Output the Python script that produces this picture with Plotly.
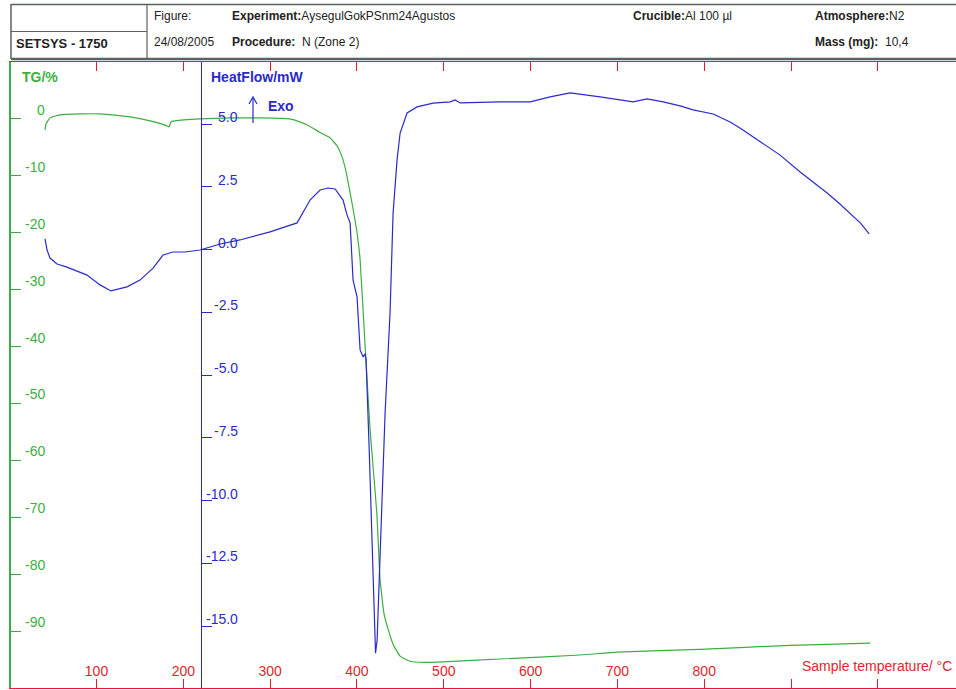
import plotly.graph_objects as go

# ---------------- data ----------------
temp_hf = [40.7, 43.0, 46.4, 54.5, 66.0, 89.1, 104.0, 116.7, 135.1, 150.1, 165.1, 176.6, 188.1,
           202.0, 219.2, 242.3, 265.3, 299.9, 331.0, 337.9, 346.0, 357.5, 366.7, 374.8, 384.0,
           388.6, 392.1, 395.5, 400.1, 403.6, 407.1, 409.4, 410.5, 414.0, 417.4, 419.7, 421.4,
           423.2, 424.3, 427.8, 432.4, 438.1, 441.6, 446.2, 449.7, 457.7, 469.2, 487.7, 507.3,
           513.1, 518.8, 564.9, 599.5, 622.5, 645.5, 680.1, 706.6, 718.1, 734.2, 752.7, 772.2,
           787.2, 810.3, 829.8, 842.0, 856.3, 872.0, 887.4, 910.5, 926.0, 941.6, 955.0, 968.1,
           980.0, 990.0]
heat_flow = [0.42, -0.02, -0.34, -0.58, -0.70, -1.02, -1.41, -1.65, -1.49, -1.22, -0.74, -0.22, -0.10,
             -0.10, -0.02, 0.22, 0.38, 0.70, 1.06, 1.49, 1.97, 2.37, 2.45, 2.41, 1.97,
             1.37, 1.06, -1.22, -1.89, -4.00, -4.28, -4.16, -4.40, -7.87, -11.85, -14.48, -16.08,
             -15.56, -14.48, -11.18, -6.51, -2.53, 1.45, 3.57, 4.64, 5.44, 5.68, 5.83, 5.88,
             5.96, 5.84, 5.88, 5.88, 6.08, 6.24, 6.08, 5.96, 5.88, 6.00, 5.88, 5.72,
             5.56, 5.40, 5.08, 4.82, 4.48, 4.12, 3.76, 3.09, 2.68, 2.25, 1.85, 1.45,
             1.05, 0.62]

temp_tg = [40.7, 41.8, 46.4, 57.9, 81.0, 104.0, 138.6, 161.6, 181.2, 183.5, 185.8, 190.4, 219.2,
           253.8, 288.4, 322.9, 334.4, 346.0, 357.5, 369.0, 377.1, 382.9, 387.5, 392.1, 396.7,
           400.1, 403.6, 409.4, 415.1, 422.8, 426.6, 431.2, 435.8, 441.6, 449.7, 461.2, 478.5,
           499.2, 564.9, 657.0, 699.6, 795.2, 898.9, 991.2]
tg = [-1.93, -0.88, 0.18, 0.70, 0.88, 0.88, 0.35, -0.35, -1.23, -1.40, -0.53, -0.35, 0.0,
      0.18, 0.18, 0.0, -0.53, -1.32, -2.40, -3.33, -4.74, -6.67, -9.30, -12.98, -16.84,
      -20.0, -24.7, -40.0, -54.6, -69.1, -80.9, -87.0, -89.6, -92.3, -94.4, -95.3, -95.5,
      -95.4, -94.9, -94.2, -93.7, -93.2, -92.5, -92.1]

tg_ticks = [0, -10, -20, -30, -40, -50, -60, -70, -80, -90]
tg_tick_text = ["0", "-10", "-20", "-30", "-40", "-50", "-60", "-70", "-80", "-90"]
hf_ticks = [5.0, 2.5, 0.0, -2.5, -5.0, -7.5, -10.0, -12.5, -15.0]
hf_tick_text = ["5.0", "2.5", "0.0", "-2.5", "-5.0", "-7.5", "-10.0", "-12.5", "-15.0"]
x_ticks = [100, 200, 300, 400, 500, 600, 700, 800, 900, 1000]
x_tick_text = ["100", "200", "300", "400", "500", "600", "700", "800", "", ""]

# ---------------- style ----------------
GREEN = "#3cae3f"
BLUE = "#2a2acb"
RED = "#e21f2d"
GREY = "#5e6060"
FONT = "Liberation Sans, Arial, sans-serif"

W, H = 956, 690
L, R, T, B = 11, 0, 62, 2


def px(x):
    return (x - L) / (W - L - R)


def py(y):
    return (H - B - y) / (H - T - B)


fig = go.Figure()
fig.add_trace(go.Scatter(x=temp_tg, y=tg, mode="lines", line=dict(color=GREEN, width=1.2, shape="spline", smoothing=0.4),
                         yaxis="y", showlegend=False, hoverinfo="skip"))
fig.add_trace(go.Scatter(x=temp_hf, y=heat_flow, mode="lines", line=dict(color=BLUE, width=1.2),
                         yaxis="y2", showlegend=False, hoverinfo="skip"))

annotations = []
shapes = []

# tick labels of TG axis
for v, t in zip(tg_ticks, tg_tick_text):
    annotations.append(dict(x=px(47), xref="paper", y=v, yref="y", text=t, showarrow=False,
                            xanchor="right", yanchor="middle", yshift=9,
                            font=dict(family=FONT, size=14, color=GREEN)))
# tick labels of heat flow axis
for v, t in zip(hf_ticks, hf_tick_text):
    annotations.append(dict(x=px(240), xref="paper", y=v, yref="y2", text=t, showarrow=False,
                            xanchor="right", yanchor="middle", yshift=7,
                            font=dict(family=FONT, size=14, color=BLUE)))

# axis titles
annotations += [
    dict(x=px(20), y=py(77), xref="paper", yref="paper", text="<b>TG/%</b>", showarrow=False,
         xanchor="left", yanchor="middle", font=dict(family=FONT, size=14, color=GREEN)),
    dict(x=px(209), y=py(77), xref="paper", yref="paper", text="<b>HeatFlow/mW</b>", showarrow=False,
         xanchor="left", yanchor="middle", font=dict(family=FONT, size=14, color=BLUE)),
    dict(x=px(266), y=py(106), xref="paper", yref="paper", text="<b>Exo</b>", showarrow=False,
         xanchor="left", yanchor="middle", font=dict(family=FONT, size=14, color=BLUE)),
    dict(x=px(954), y=py(666), xref="paper", yref="paper", text="Sample temperature/ °C",
         showarrow=False, xanchor="right", yanchor="middle",
         font=dict(family=FONT, size=14, color=RED)),
]

# header texts
hdr = [
    (152, 16, "Figure:", 12, "left"),
    (230, 16, "<b>Experiment:</b>AysegulGokPSnm24Agustos", 12, "left"),
    (631, 16, "<b>Crucible:</b>Al 100 µl", 12, "left"),
    (813, 16, "<b>Atmosphere:</b>N2", 12, "left"),
    (152, 42, "24/08/2005", 12, "left"),
    (230, 42, "<b>Procedure:</b>  N (Zone 2)", 12, "left"),
    (813, 42, "<b>Mass (mg):</b>  10,4", 12, "left"),
    (14, 44, "<b>SETSYS - 1750</b>", 13, "left"),
]
for x, y, t, s, a in hdr:
    annotations.append(dict(x=px(x), y=py(y), xref="paper", yref="paper", text=t, showarrow=False,
                            xanchor=a, yanchor="middle",
                            font=dict(family=FONT, size=s, color="#222222")))

# header frame lines
def seg(x0, y0, x1, y1, color, width):
    shapes.append(dict(type="line", xref="paper", yref="paper", x0=px(x0), y0=py(y0),
                       x1=px(x1), y1=py(y1), line=dict(color=color, width=width)))

seg(11, 4.5, 956, 4.5, GREY, 1.5)
seg(11, 59, 956, 59, GREY, 2.5)
seg(11, 4, 11, 59, GREY, 1.5)
seg(147, 4, 147, 59, GREY, 1.2)
seg(11, 31.5, 147, 31.5, GREY, 1.2)

# Exo arrow
seg(253, 123, 253, 97, BLUE, 1.2)
shapes.append(dict(type="path", xref="paper", yref="paper",
                   path=f"M {px(249)},{py(104)} L {px(253)},{py(97)} L {px(257)},{py(104)}",
                   line=dict(color=BLUE, width=1.2)))

fig.update_layout(
    width=W, height=H, autosize=False,
    margin=dict(l=L, r=R, t=T, b=B, pad=0),
    paper_bgcolor="white", plot_bgcolor="white",
    showlegend=False,
    font=dict(family=FONT),
    xaxis=dict(range=[1.5, 1090], showgrid=False, zeroline=False,
               showline=True, linecolor=RED, linewidth=1.2, mirror="ticks",
               ticks="inside", ticklen=9, tickcolor=RED, tickwidth=1,
               tickvals=x_ticks, ticktext=x_tick_text, ticklabelposition="inside",
               tickfont=dict(family=FONT, size=14, color=RED)),
    yaxis=dict(range=[-100, 10], showgrid=False, zeroline=False,
               showline=True, linecolor=GREEN, linewidth=1.5,
               ticks="inside", ticklen=10, tickcolor=GREEN, tickwidth=1,
               tickvals=tg_ticks, showticklabels=False),
    yaxis2=dict(range=[-17.47, 7.47], overlaying="y", anchor="free", position=px(201),
                side="left", showgrid=False, zeroline=False,
                showline=True, linecolor=BLUE, linewidth=1.2,
                ticks="inside", ticklen=10, tickcolor=BLUE, tickwidth=1,
                tickvals=hf_ticks, showticklabels=False),
    annotations=annotations,
    shapes=shapes,
)

fig.write_html("out.html")
